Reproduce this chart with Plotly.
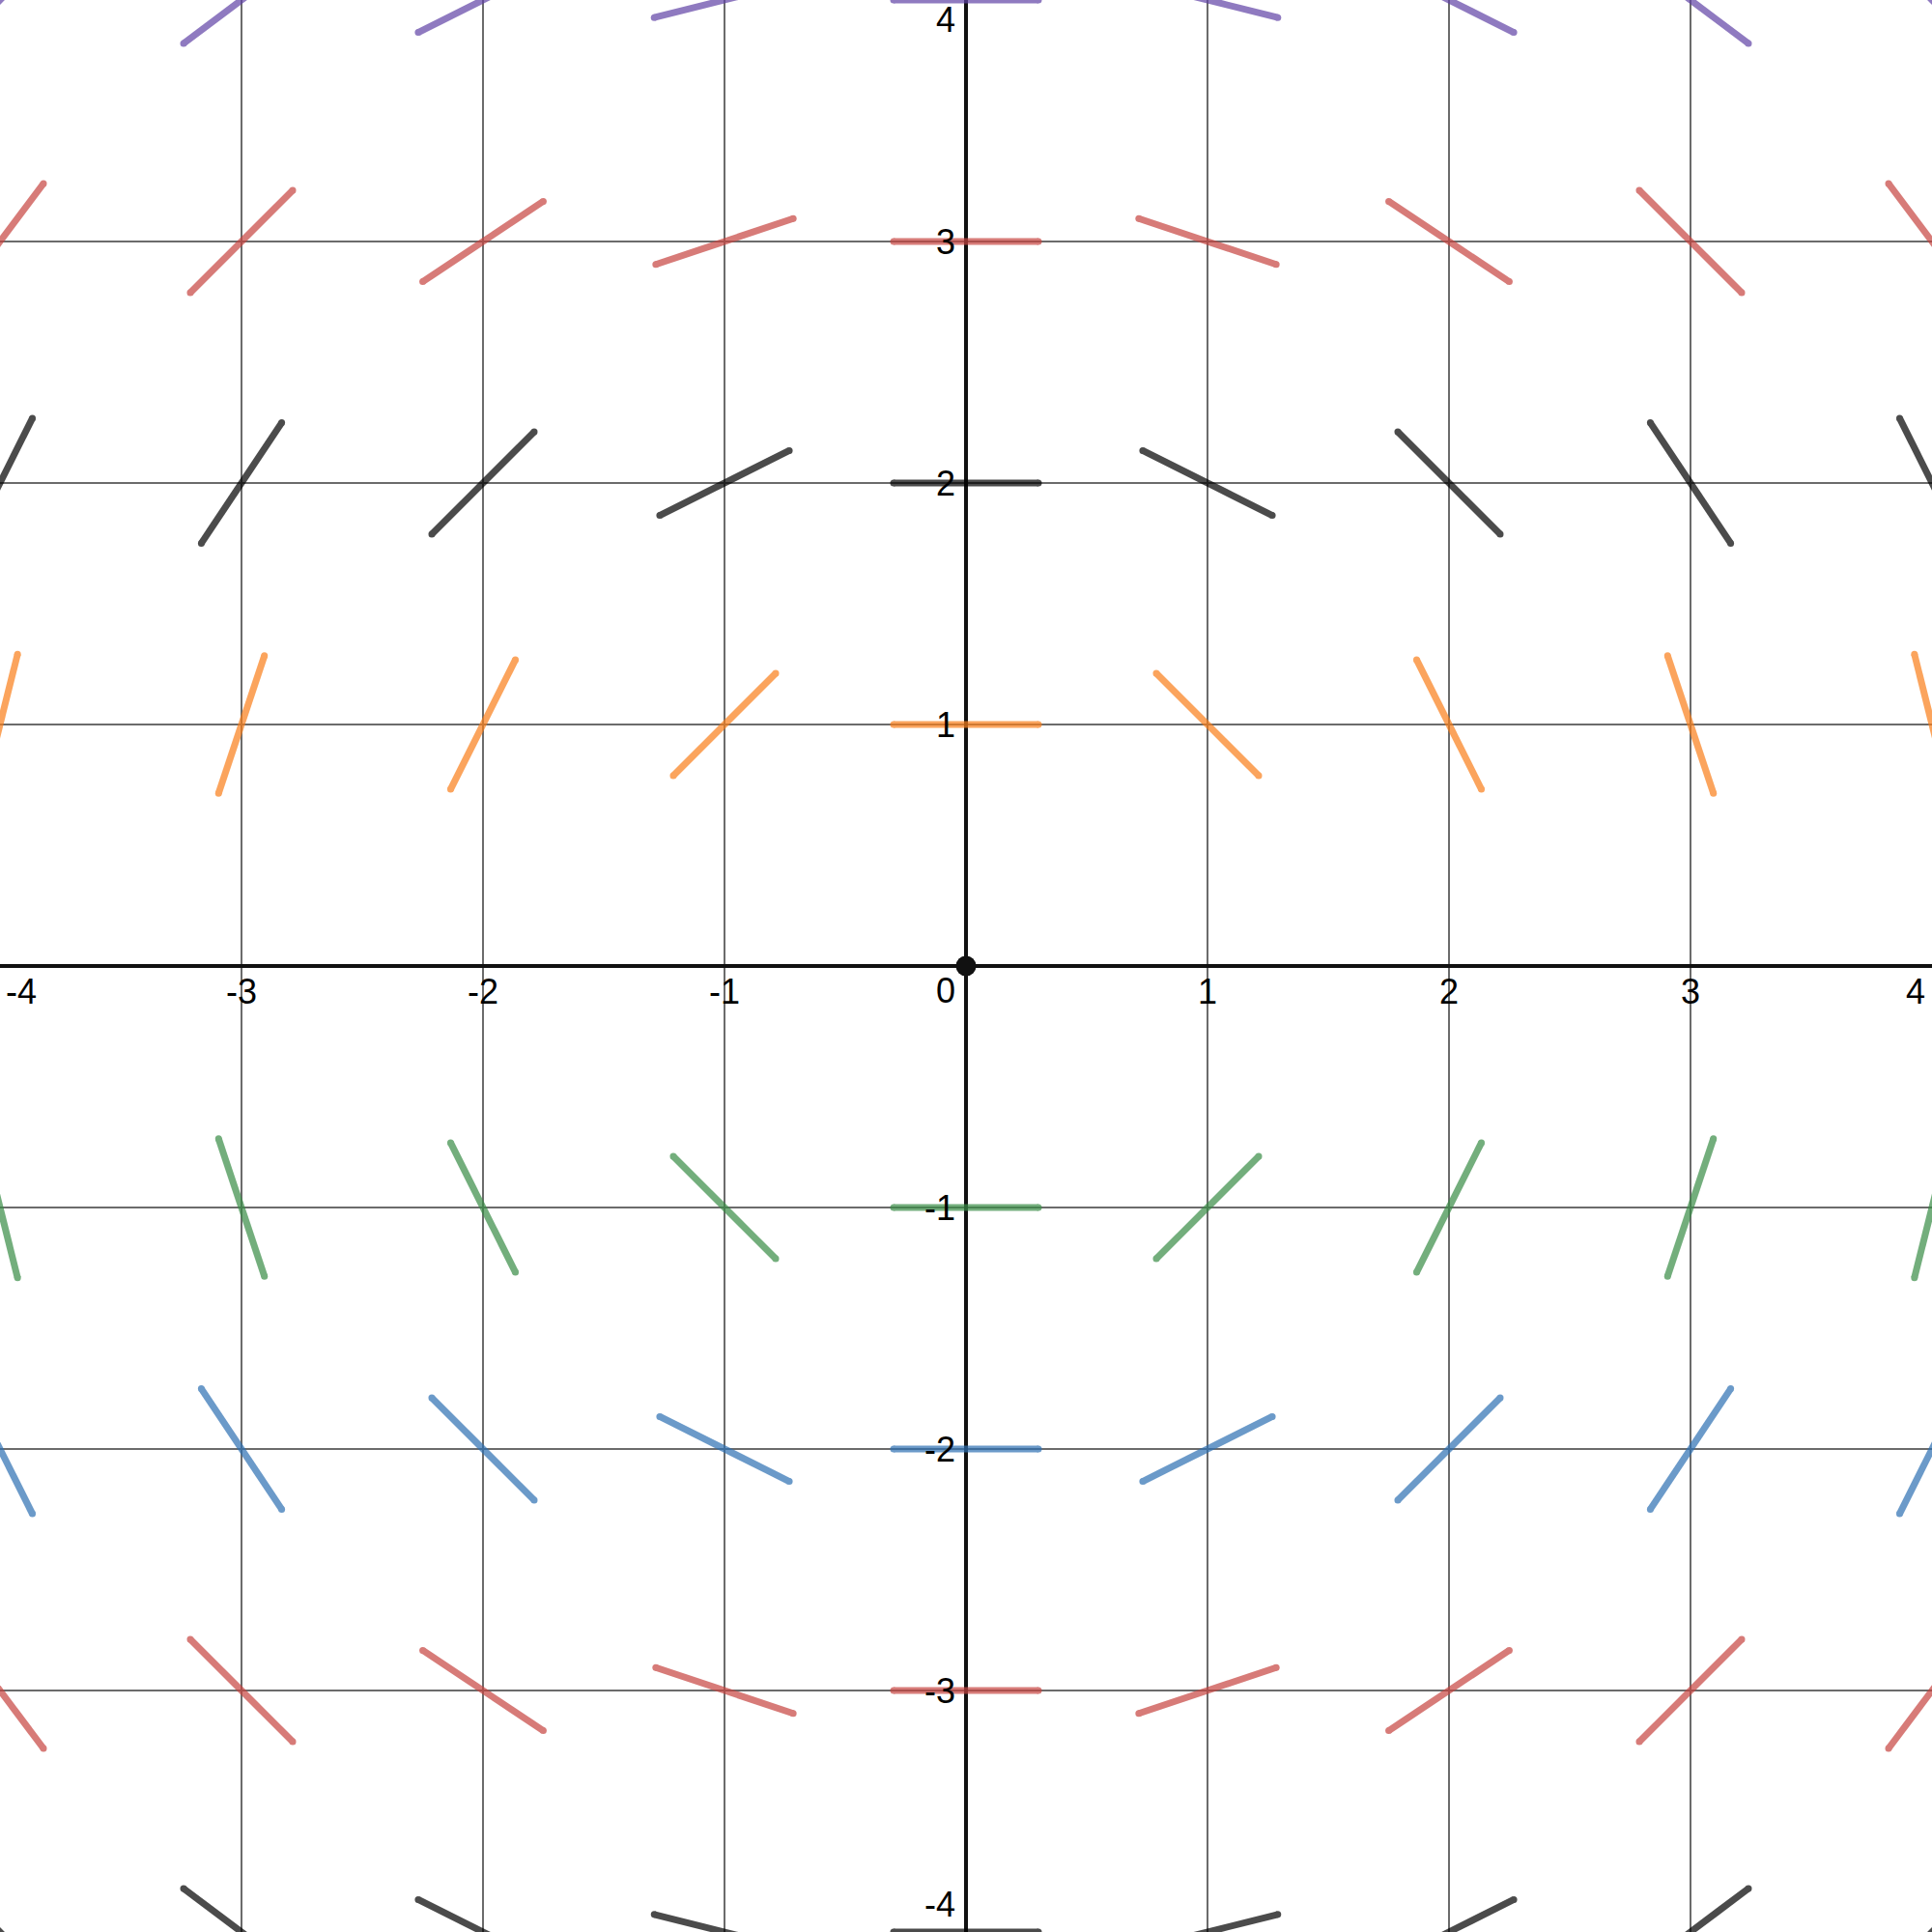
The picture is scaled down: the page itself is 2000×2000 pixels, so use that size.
import math
import plotly.graph_objects as go

# Slope field dy/dx = -x / y sampled on the integer grid
x_values = [-4, -3, -2, -1, 0, 1, 2, 3, 4]
row_y_values = [4, 3, 2, 1, -1, -2, -3, -4]
row_colors = ["#6042a6", "#c74440", "#000000", "#fa7e19",
              "#388c46", "#2d70b3", "#c74440", "#000000"]
tick_values = [-4, -3, -2, -1, 1, 2, 3, 4]
tick_labels = ["-4", "-3", "-2", "-1", "1", "2", "3", "4"]
half_len = 0.3

fig = go.Figure()

for yv, col in zip(row_y_values, row_colors):
    xs, ys = [], []
    for xv in x_values:
        slope = -xv / yv
        d = half_len / math.sqrt(1 + slope * slope)
        xs += [xv - d, xv + d, None]
        ys += [yv - slope * d, yv + slope * d, None]
    fig.add_trace(go.Scatter(
        x=xs, y=ys, mode="lines+markers",
        line=dict(color=col, width=7),
        marker=dict(color=col, size=7, line=dict(width=0)),
        opacity=0.7, hoverinfo="skip", showlegend=False))

# origin dot
fig.add_trace(go.Scatter(x=[0], y=[0], mode="markers",
                         marker=dict(color="#111111", size=21),
                         hoverinfo="skip", showlegend=False))

font = dict(family="Liberation Sans, Arial, sans-serif", size=36, color="#000000")
ann = []
for v, t in zip(tick_values, tick_labels):
    # x axis labels
    if v == -4:
        ann.append(dict(x=v, y=0, text=t, showarrow=False, xanchor="left",
                        yanchor="top", xshift=4, yshift=-4, font=font))
    elif v == 4:
        ann.append(dict(x=v, y=0, text=t, showarrow=False, xanchor="right",
                        yanchor="top", xshift=-5, yshift=-4, font=font))
    else:
        ann.append(dict(x=v, y=0, text=t, showarrow=False, xanchor="center",
                        yanchor="top", yshift=-4, font=font))
    # y axis labels
    if v == 4:
        ann.append(dict(x=0, y=v, text=t, showarrow=False, xanchor="right",
                        yanchor="top", xshift=-9, yshift=2, font=font))
    elif v == -4:
        ann.append(dict(x=0, y=v, text=t, showarrow=False, xanchor="right",
                        yanchor="bottom", xshift=-9, yshift=6, font=font))
    else:
        ann.append(dict(x=0, y=v, text=t, showarrow=False, xanchor="right",
                        yanchor="middle", xshift=-9, font=font))
ann.append(dict(x=0, y=0, text="0", showarrow=False, xanchor="right",
                yanchor="top", xshift=-9, yshift=-3, font=font))

axis_common = dict(range=[-4, 4], dtick=1, tick0=0, showgrid=True,
                   gridcolor="#6b6b6b", gridwidth=2, zeroline=True,
                   zerolinecolor="#111111", zerolinewidth=4,
                   showticklabels=False, ticks="", showline=False,
                   fixedrange=True)

fig.update_layout(
    width=2000, height=2000,
    margin=dict(l=0, r=0, t=0, b=0),
    paper_bgcolor="white", plot_bgcolor="white",
    xaxis=axis_common, yaxis=axis_common,
    annotations=ann,
)

fig.write_html("out.html", config={"displayModeBar": False},
               post_script="document.body.style.margin='0';document.body.style.padding='0';")
